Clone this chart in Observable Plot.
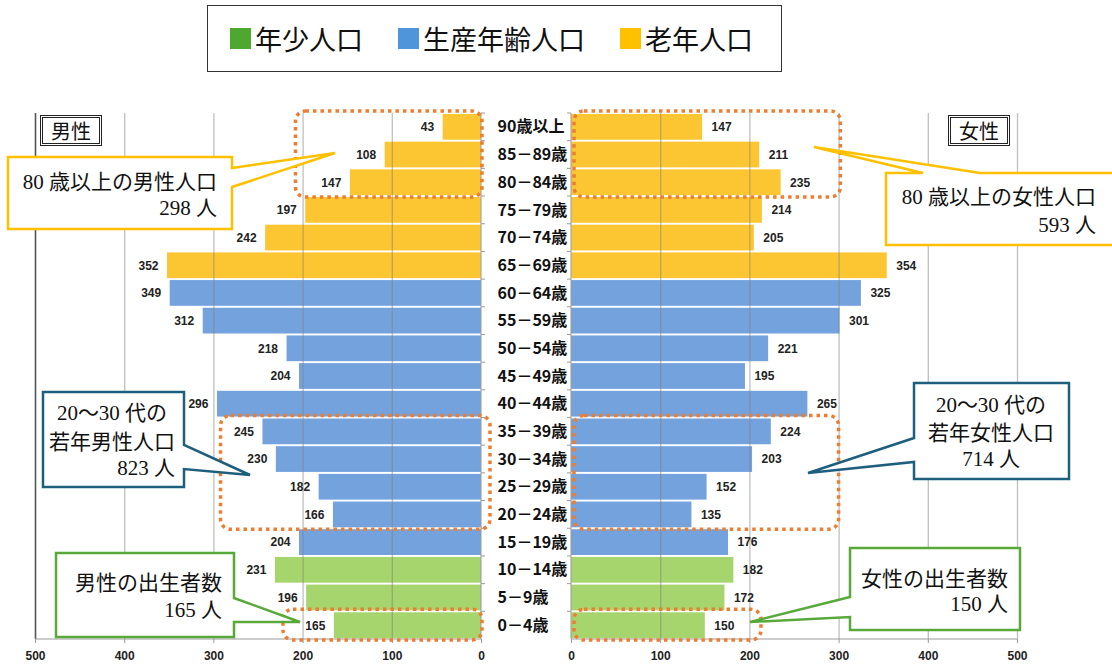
<!DOCTYPE html>
<html><head><meta charset="utf-8">
<script src="https://cdn.jsdelivr.net/npm/d3@7"></script>
<script src="https://cdn.jsdelivr.net/npm/@observablehq/plot@0.6"></script>
<style>
html,body{margin:0;padding:0;background:#fff;width:1112px;height:668px;overflow:hidden;}
#root{position:relative;width:1112px;height:668px;}
.abs{position:absolute;}
#legend{left:207px;top:5px;border:1px solid #333;display:flex;align-items:center;padding-left:22px;box-sizing:border-box;width:575px;height:67px;gap:35px;font-family:"Noto Sans CJK JP",sans-serif;font-size:27px;color:#111;}
#legend .item{display:flex;align-items:center;}
#legend .sw{width:21px;height:21px;margin-right:4px;}
.sex{width:56px;height:25px;border:3px double #222;background:#fff;font-family:"Noto Sans CJK JP",sans-serif;font-size:20px;line-height:25px;text-align:center;color:#111;}
#overlay{left:0;top:0;pointer-events:none;}
</style>
</head><body><div id="root"></div>
<script>
// ---- data ----
const ages = ["90歳以上","85－89歳","80－84歳","75－79歳","70－74歳","65－69歳","60－64歳","55－59歳","50－54歳","45－49歳","40－44歳","35－39歳","30－34歳","25－29歳","20－24歳","15－19歳","10－14歳","5－9歳","0－4歳"];
const malePop = [43,108,147,197,242,352,349,312,218,204,296,245,230,182,166,204,231,196,165];
const femalePop = [147,211,235,214,205,354,325,301,221,195,265,224,203,152,135,176,182,172,150];
const ageGroup = ["老年人口","老年人口","老年人口","老年人口","老年人口","老年人口",
  "生産年齢人口","生産年齢人口","生産年齢人口","生産年齢人口","生産年齢人口","生産年齢人口","生産年齢人口","生産年齢人口","生産年齢人口","生産年齢人口",
  "年少人口","年少人口","年少人口"];
const groups = ["年少人口","生産年齢人口","老年人口"];
const barColors = ["#a6d46d","#74a2dd","#fcc632"];
const legendColors = ["#4ea72e","#4e95d9","#ffc000"];
const xTicks = [0,100,200,300,400,500];
const sexLabels = ["男性","女性"];

// ---- build ----
const root = document.getElementById("root");
const maleData = ages.map((a,i)=>({age:a,value:malePop[i],group:ageGroup[i]}));
const femaleData = ages.map((a,i)=>({age:a,value:femalePop[i],group:ageGroup[i]}));

// legend
const leg = document.createElement("div");
leg.id="legend"; leg.className="abs";
groups.forEach((g,i)=>{
  const it=document.createElement("div"); it.className="item";
  const sw=document.createElement("span"); sw.className="sw"; sw.style.background=legendColors[i];
  const tx=document.createElement("span"); tx.textContent=g;
  it.appendChild(sw); it.appendChild(tx); leg.appendChild(it);
});
root.appendChild(leg);

const TOP=95;
const common = {
  height:573, marginTop:18, marginBottom:29,
  y:{domain:ages, axis:null, paddingInner:0.07, paddingOuter:0.035, round:false},
  color:{domain:groups, range:barColors},
  style:{fontFamily:"'Liberation Sans', Arial, sans-serif", fontSize:"12px", background:"transparent", overflow:"visible"}
};
const maleChart = Plot.plot({
  ...common, width:490, marginLeft:35, marginRight:9,
  x:{domain:[0,500], reverse:true},
  marks:[
    Plot.barX(maleData,{x:"value",y:"age",fill:"group"}),
    Plot.gridX(xTicks.filter(t=>t>0&&t<500),{stroke:"#808080",strokeOpacity:0.5,strokeWidth:1.3}),
    Plot.ruleX([500],{stroke:"#555",strokeWidth:1.6}),
    Plot.axisX({ticks:xTicks,tickSize:4,tickPadding:8,tickFormat:d=>String(d),label:null,fontWeight:"bold",stroke:"#999",fill:"#222"}),
    Plot.text(maleData,{x:"value",y:"age",text:d=>String(d.value),textAnchor:"end",dx:-9,fontWeight:"bold",fill:"#222"})
  ]
});
const femaleChart = Plot.plot({
  ...common, width:630, marginLeft:89, marginRight:95,
  x:{domain:[0,500]},
  marks:[
    Plot.barX(femaleData,{x:"value",y:"age",fill:"group"}),
    Plot.gridX(xTicks.filter(t=>t>0),{stroke:"#808080",strokeOpacity:0.5,strokeWidth:1.3}),
    Plot.axisX({ticks:xTicks,tickSize:4,tickPadding:8,tickFormat:d=>String(d),label:null,fontWeight:"bold",stroke:"#999",fill:"#222"}),
    Plot.text(femaleData,{x:"value",y:"age",text:d=>String(d.value),textAnchor:"start",dx:9,fontWeight:"bold",fill:"#222"}),
    Plot.text(ages,{y:d=>d,text:d=>d,frameAnchor:"left",dx:-74,textAnchor:"start",fontSize:16,fontWeight:"bold",fontFamily:"'Noto Sans CJK JP', sans-serif",fill:"#111"})
  ]
});
function place(el,left,top){const w=document.createElement("div");w.className="abs";w.style.left=left+"px";w.style.top=top+"px";w.appendChild(el);root.appendChild(w);}
place(maleChart,0,TOP);
place(femaleChart,482,TOP);

// sex labels
[[40,115],[948,115]].forEach((p,i)=>{
  const d=document.createElement("div");d.className="abs sex";d.style.left=p[0]+"px";d.style.top=p[1]+"px";d.textContent=sexLabels[i];root.appendChild(d);
});

// ---- overlay (annotations via the plots' scales) ----
const mx=maleChart.scale("x"), my=maleChart.scale("y");
const fx=femaleChart.scale("x");
const MX=v=>mx.apply(v), FX=v=>fx.apply(v)+482;
const Y=a=>my.apply(a)+TOP, bw=my.bandwidth, step=my.step ?? bw/0.93;
const yTop=my.range[0]+TOP, yBot=my.range[1]+TOP;

const svg=d3.select(root).append("svg").attr("id","overlay").attr("class","abs").attr("width",1112).attr("height",668);

// zero lines with band ticks, bottom axis lines
const x0m=MX(0), x0f=FX(0);
svg.append("line").attr("x1",x0m).attr("x2",x0m).attr("y1",yTop).attr("y2",yBot).attr("stroke","#9a9a9a");
svg.append("line").attr("x1",x0f).attr("x2",x0f).attr("y1",yTop).attr("y2",yBot).attr("stroke","#9a9a9a");
ages.forEach(a=>{
  const yy=Y(a)-(step-bw)/2;
  svg.append("line").attr("x1",x0m).attr("x2",x0m+4).attr("y1",yy).attr("y2",yy).attr("stroke","#9a9a9a");
  svg.append("line").attr("x1",x0f-4).attr("x2",x0f).attr("y1",yy).attr("y2",yy).attr("stroke","#9a9a9a");
});
svg.append("line").attr("x1",MX(500)).attr("x2",x0m).attr("y1",yBot).attr("y2",yBot).attr("stroke","#9a9a9a");
svg.append("line").attr("x1",x0f).attr("x2",FX(500)).attr("y1",yBot).attr("y2",yBot).attr("stroke","#9a9a9a");

// dotted highlight boxes
const highlights=[
  {side:"m",from:"90歳以上",to:"80－84歳",ext:208},
  {side:"f",from:"90歳以上",to:"80－84歳",ext:302},
  {side:"m",from:"35－39歳",to:"20－24歳",ext:292,over:9},
  {side:"f",from:"35－39歳",to:"20－24歳",ext:300},
  {side:"m",from:"0－4歳",to:"0－4歳",ext:222},
  {side:"f",from:"0－4歳",to:"0－4歳",ext:213}
];
highlights.forEach(h=>{
  const y1=Y(h.from)-3, y2=Y(h.to)+bw+2;
  let xa,xb;
  if(h.side==="m"){xa=MX(h.ext);xb=x0m+(h.over||1);} else {xa=x0f+3;xb=FX(h.ext);}
  svg.append("rect").attr("x",xa).attr("y",y1).attr("width",xb-xa).attr("height",y2-y1)
    .attr("rx",10).attr("fill","none").attr("stroke","#ed7d31").attr("stroke-width",3.5).attr("stroke-dasharray","3.5 4");
});

// callouts
const sum=(arr,from,to)=>d3.sum(arr.slice(ages.indexOf(from),ages.indexOf(to)+1));
const callouts=[
  {color:"#ffc000",box:[8,157,232,229],ptr:{edge:"right",a:168,b:187,tip:[335,153]},
   lines:[["80 歳以上の男性人口",217,182,"end"],[sum(malePop,"90歳以上","80－84歳")+" 人",217,208,"end"]]},
  {color:"#ffc000",box:[886,173,1118,245],ptr:{edge:"top",a:923,b:980,tip:[814,147]},
   lines:[["80 歳以上の女性人口",1096,197,"end"],[sum(femalePop,"90歳以上","80－84歳")+" 人",1096,225,"end"]]},
  {color:"#1f5f7e",box:[43,392,184,487],ptr:{edge:"right",a:445,b:469,tip:[250,475]},
   lines:[["20～30 代の",112,413,"middle"],["若年男性人口",112,442,"middle"],[sum(malePop,"35－39歳","20－24歳")+" 人",175,468,"end"]]},
  {color:"#1f5f7e",box:[914,383,1069,479],ptr:{edge:"left",a:438,b:462,tip:[808,473]},
   lines:[["20～30 代の",991,405,"middle"],["若年女性人口",991,433,"middle"],[sum(femalePop,"35－39歳","20－24歳")+" 人",991,459,"middle"]]},
  {color:"#58a83a",box:[56,553,234,637],ptr:{edge:"right",a:598,b:622,tip:[300,622]},
   lines:[["男性の出生者数",222,583,"end"],[malePop[ages.indexOf("0－4歳")]+" 人",222,610,"end"]]},
  {color:"#58a83a",box:[850,548,1020,630],ptr:{edge:"left",a:597,b:617,tip:[750,622]},
   lines:[["女性の出生者数",1008,579,"end"],[femalePop[ages.indexOf("0－4歳")]+" 人",1008,604,"end"]]}
];
callouts.forEach(c=>{
  const [x1,y1,x2,y2]=c.box, p=c.ptr, t=p.tip;
  let pts;
  if(p.edge==="right") pts=[[x1,y1],[x2,y1],[x2,p.a],t,[x2,p.b],[x2,y2],[x1,y2]];
  else if(p.edge==="left") pts=[[x1,y1],[x2,y1],[x2,y2],[x1,y2],[x1,p.b],t,[x1,p.a]];
  else pts=[[x1,y1],[p.a,y1],t,[p.b,y1],[x2,y1],[x2,y2],[x1,y2]];
  svg.append("polygon").attr("points",pts.map(q=>q.join(",")).join(" "))
    .attr("fill","#fff").attr("stroke",c.color).attr("stroke-width",2.5).attr("stroke-linejoin","miter");
  c.lines.forEach(l=>{
    svg.append("text").attr("x",l[1]).attr("y",l[2]).attr("text-anchor",l[3]).attr("dominant-baseline","central")
      .attr("font-family","'Liberation Serif','Noto Sans CJK JP',serif").attr("font-size",21).attr("fill","#111").text(l[0]);
  });
});
</script></body></html>
